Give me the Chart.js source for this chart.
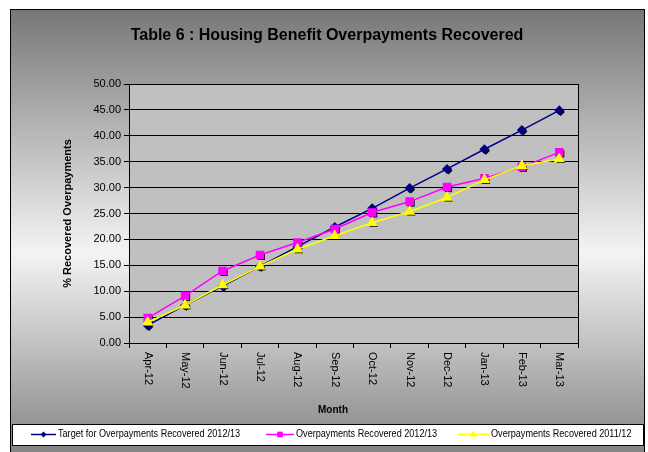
<!DOCTYPE html>
<html>
<head>
<meta charset="utf-8">
<script src="https://cdn.jsdelivr.net/npm/chart.js@4.4.1/dist/chart.umd.min.js"></script>
<style>
  body { margin: 0; background: #fff; }
  canvas { display: block; }
</style>
</head>
<body>
<canvas id="hbChart" width="648" height="452"></canvas>
<script>
const months = ["Apr-12", "May-12", "Jun-12", "Jul-12", "Aug-12", "Sep-12", "Oct-12", "Nov-12", "Dec-12", "Jan-13", "Feb-13", "Mar-13"];
const target1213 = [3.4, 7.3, 11.0, 14.8, 18.6, 22.4, 26.0, 29.9, 33.6, 37.4, 41.1, 44.9];
const recovered1213 = [4.8, 9.1, 13.9, 17.0, 19.4, 22.0, 25.2, 27.3, 30.1, 31.8, 34.0, 36.8];
const recovered1112 = [4.0, 7.3, 11.2, 14.8, 18.1, 20.7, 23.2, 25.4, 28.1, 31.5, 34.2, 35.5];
const yTicks = [0, 5, 10, 15, 20, 25, 30, 35, 40, 45, 50];

const FONT = "'Liberation Sans', Arial, sans-serif";

// background, plot area, title, labels, legend - excel style
const excelLook = {
    id: "excelLook",
    beforeDraw(chart) {
        const ctx = chart.ctx;
        const a = chart.chartArea;
        ctx.save();
        const g = ctx.createLinearGradient(0, 9, 0, 452);
        g.addColorStop(0, "#777777");
        g.addColorStop(0.55, "#f4f4f4");
        g.addColorStop(1, "#858585");
        ctx.fillStyle = g;
        ctx.fillRect(10, 9, 635, 445);
        ctx.strokeStyle = "#000";
        ctx.lineWidth = 1;
        ctx.strokeRect(10.5, 9.5, 634, 450);
        ctx.fillStyle = "#c0c0c0";
        ctx.fillRect(a.left, a.top, a.right - a.left, a.bottom - a.top);
        ctx.restore();
    },
    beforeDatasetsDraw(chart) {
        // black drop shadow under markers
        const ctx = chart.ctx;
        ctx.save();
        ctx.fillStyle = "#000";
        chart.data.datasets.forEach((ds, i) => {
            const meta = chart.getDatasetMeta(i);
            meta.data.forEach(pt => {
                Chart.helpers.drawPoint(ctx, { pointStyle: ds.pointStyle, radius: ds.pointRadius, rotation: 0, borderWidth: 0 }, pt.x + 1.5, pt.y + 1.5);
            });
        });
        ctx.restore();
    },
    afterDraw(chart) {
        const ctx = chart.ctx;
        const a = chart.chartArea;
        const xs = chart.scales.x;
        ctx.save();
        ctx.strokeStyle = "#000";
        ctx.lineWidth = 1;
        ctx.beginPath();
        ctx.moveTo(a.right + 0.5, a.top);
        ctx.lineTo(a.right + 0.5, a.bottom);
        ctx.stroke();

        ctx.fillStyle = "#000";
        ctx.font = "bold 16px " + FONT;
        ctx.textAlign = "center";
        ctx.textBaseline = "middle";
        ctx.fillText("Table 6 : Housing Benefit Overpayments Recovered", 327, 36);

        ctx.font = "bold 10px " + FONT;
        ctx.fillText("Month", 333, 410);

        ctx.save();
        ctx.translate(68, (a.top + a.bottom) / 2);
        ctx.rotate(-Math.PI / 2);
        ctx.font = "bold 11px " + FONT;
        ctx.fillText("% Recovered Overpayments", 0, 0);
        ctx.restore();

        ctx.font = "11px " + FONT;
        ctx.textAlign = "left";
        months.forEach((m, i) => {
            ctx.save();
            ctx.translate(xs.getPixelForValue(i), a.bottom + 9);
            ctx.rotate(Math.PI / 2);
            ctx.fillText(m, 0, 0);
            ctx.restore();
        });

        // legend
        ctx.fillStyle = "#fff";
        ctx.fillRect(12, 424, 631, 21);
        ctx.strokeRect(12.5, 424.5, 631, 21);
        const spots = [[31, 56, 58], [266, 294, 296], [458, 489, 491]];
        chart.data.datasets.forEach((ds, i) => {
            const [x1, x2, tx] = spots[i];
            const y = 434.5;
            ctx.strokeStyle = ds.borderColor;
            ctx.lineWidth = 1.5;
            ctx.beginPath();
            ctx.moveTo(x1, y);
            ctx.lineTo(x2, y);
            ctx.stroke();
            ctx.fillStyle = ds.backgroundColor;
            Chart.helpers.drawPoint(ctx, { pointStyle: ds.pointStyle, radius: ds.pointRadius - 1, rotation: 0, borderWidth: 0 }, (x1 + x2) / 2, y);
            ctx.save();
            ctx.translate(tx, y);
            ctx.scale(0.91, 1);
            ctx.fillStyle = "#000";
            ctx.font = "10px " + FONT;
            ctx.textBaseline = "middle";
            ctx.fillText(ds.label, 0, 0);
            ctx.restore();
        });
        ctx.restore();
    }
};

new Chart(document.getElementById("hbChart"), {
    type: "line",
    data: {
        labels: months,
        datasets: [
            {
                label: "Target for Overpayments Recovered 2012/13",
                data: target1213,
                borderColor: "#000080",
                backgroundColor: "#000080",
                pointStyle: "rectRot",
                pointRadius: 4,
                borderWidth: 1.5,
                order: 3
            },
            {
                label: "Overpayments Recovered 2012/13",
                data: recovered1213,
                borderColor: "#ff00ff",
                backgroundColor: "#ff00ff",
                pointStyle: "rect",
                pointRadius: 5,
                borderWidth: 1.5,
                order: 2
            },
            {
                label: "Overpayments Recovered 2011/12",
                data: recovered1112,
                borderColor: "#ffff00",
                backgroundColor: "#ffff00",
                pointStyle: "triangle",
                pointRadius: 5,
                borderWidth: 1.5,
                order: 1
            }
        ]
    },
    options: {
        responsive: false,
        animation: false,
        layout: { padding: { left: 0, top: 84, right: 70, bottom: 0 } },
        plugins: {
            legend: { display: false },
            title: { display: false },
            tooltip: { enabled: false }
        },
        elements: {
            line: { tension: 0 },
            point: { borderWidth: 1 }
        },
        scales: {
            x: {
                offset: true,
                afterFit: scale => { scale.height = 109; },
                grid: { drawOnChartArea: false, offset: true, color: "#000", tickLength: 5 },
                border: { color: "#000" },
                ticks: { display: false }
            },
            y: {
                min: 0,
                max: 50,
                afterFit: scale => { scale.width = 129; },
                afterBuildTicks: scale => { scale.ticks = yTicks.map(v => ({ value: v })); },
                grid: { color: "#000", tickLength: 5 },
                border: { color: "#000" },
                ticks: {
                    padding: 3,
                    color: "#000",
                    font: { family: FONT, size: 11 },
                    callback: v => v.toFixed(2)
                }
            }
        }
    },
    plugins: [excelLook]
});
</script>
</body>
</html>
